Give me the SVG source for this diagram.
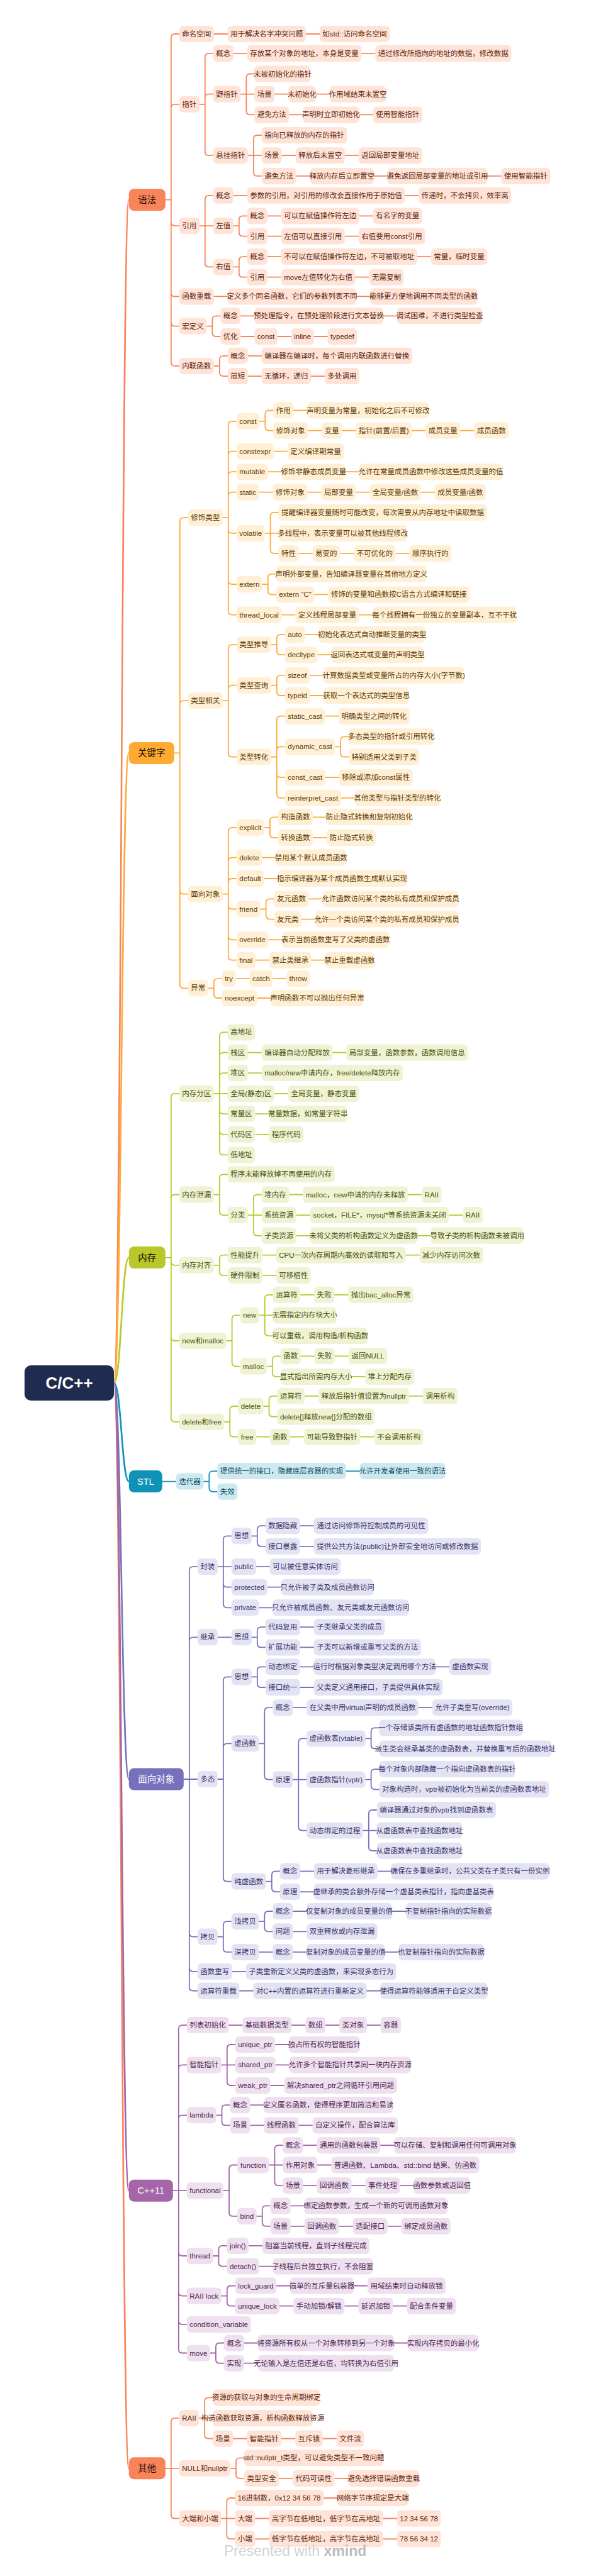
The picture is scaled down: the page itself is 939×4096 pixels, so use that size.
<svg xmlns="http://www.w3.org/2000/svg" width="939" height="4096" viewBox="0 0 939 4096">
<style>
text{font-family:"Liberation Sans","Noto Sans CJK SC",sans-serif;font-size:11.5px;text-anchor:middle}
svg svg{overflow:visible}
.c1 rect{fill:#FFE3D6}.c1 text{fill:#5B2711}
.c2 rect{fill:#FFEFD5}.c2 text{fill:#5B3B05}
.c3 rect{fill:#F0F3D3}.c3 text{fill:#4A5210}
.c4 rect{fill:#CDE8F1}.c4 text{fill:#0B4E62}
.c5 rect{fill:#E4E3F3}.c5 text{fill:#38356A}
.c6 rect{fill:#EEE0EF}.c6 text{fill:#4D2951}
.top text{font-size:14.5px}
.tw text{fill:#fff}.td text{fill:#1E0C02}
path{fill:none;stroke-width:1.8;stroke-linecap:round}
.l1{stroke:#F8855B}.l2{stroke:#FFAB38}.l3{stroke:#B9C92D}.l4{stroke:#1192B4}.l5{stroke:#7872BC}.l6{stroke:#A266A8}
.rl{stroke-width:2.6}
</style>
<rect width="939" height="4096" fill="#fff"/>
<g id="connectors">
<path class="l1 rl" d="M181 2199C193 2199 193 317.7 204.8 317.7M181 2199C193 2199 193 3924.8 204.8 3924.8"/>
<path class="l2 rl" d="M181 2199C193 2199 193 1197.4 204.8 1197.4"/>
<path class="l3 rl" d="M181 2199C193 2199 193 1999.6 204.8 1999.6"/>
<path class="l4 rl" d="M181 2199C193 2199 193 2355.6 204.8 2355.6"/>
<path class="l5 rl" d="M181 2199C193 2199 193 2829 204.8 2829"/>
<path class="l6 rl" d="M181 2199C193 2199 193 3483.2 204.8 3483.2"/>
<path class="l1" d="M262.8 317.7H271.8V60Q271.8 54 277.8 54H284.8M262.8 317.7H271.8V171.8Q271.8 165.8 277.8 165.8H284.8M262.8 317.7H271.8V353.1Q271.8 359.1 277.8 359.1H284.8M262.8 317.7H271.8V465.4Q271.8 471.4 277.8 471.4H284.8M262.8 317.7H271.8V512.6Q271.8 518.6 277.8 518.6H284.8M262.8 317.7H271.8V575.9Q271.8 581.9 277.8 581.9H284.8
M339.8 54H361.8M485.8 54H507.8
M316.8 165.8H325.8V90.9Q325.8 84.9 331.8 84.9H338.8M316.8 165.8H325.8V155.7Q325.8 149.7 331.8 149.7H338.8M316.8 165.8H325.8V241.2Q325.8 247.2 331.8 247.2H338.8
M370.8 84.9H392.8M574.3 84.9H596.3
M382.3 149.7H391.3V123.5Q391.3 117.5 397.3 117.5H404.3M382.3 149.7H404.3M382.3 149.7H391.3V176.4Q391.3 182.4 397.3 182.4H404.3
M436.3 149.7H458.3M501.8 149.7H523.8M459.3 182.4H481.3M570.8 182.4H592.8
M393.8 247.2H402.8V221Q402.8 215 408.8 215H415.8M393.8 247.2H415.8M393.8 247.2H402.8V273.9Q402.8 279.9 408.8 279.9H415.8
M447.8 247.2H469.8M547.8 247.2H569.8M470.8 279.9H492.8M593.8 279.9H615.8M774.3 279.9H796.3
M316.8 359.1H325.8V316.8Q325.8 310.8 331.8 310.8H338.8M316.8 359.1H338.8M316.8 359.1H325.8V418.4Q325.8 424.4 331.8 424.4H338.8
M370.8 310.8H392.8M643.3 310.8H665.3
M370.8 359.1H379.8V349.4Q379.8 343.4 385.8 343.4H392.8M370.8 359.1H379.8V369.6Q379.8 375.6 385.8 375.6H392.8
M424.8 343.4H446.8M570.8 343.4H592.8M424.8 375.6H446.8M547.8 375.6H569.8
M370.8 424.4H379.8V414.1Q379.8 408.1 385.8 408.1H392.8M370.8 424.4H379.8V434.7Q379.8 440.7 385.8 440.7H392.8
M424.8 408.1H446.8M662.8 408.1H684.8M424.8 440.7H446.8M564.4 440.7H586.4
M339.8 471.4H361.8M566.3 471.4H588.3
M328.3 518.6H337.3V508.3Q337.3 502.3 343.3 502.3H350.3M328.3 518.6H337.3V529Q337.3 535 343.3 535H350.3
M382.3 502.3H404.3M608.8 502.3H630.8M382.3 535H404.3M440.8 535H462.8M498.6 535H520.6
M339.8 581.9H348.8V571.8Q348.8 565.8 354.8 565.8H361.8M339.8 581.9H348.8V592.1Q348.8 598.1 354.8 598.1H361.8
M393.8 565.8H415.8M393.8 598.1H415.8M493.8 598.1H515.8"/>
<path class="l2" d="M276.8 1197.4H285.8V829.1Q285.8 823.1 291.8 823.1H298.8M276.8 1197.4H285.8V1120.1Q285.8 1114.1 291.8 1114.1H298.8M276.8 1197.4H285.8V1415.6Q285.8 1421.6 291.8 1421.6H298.8M276.8 1197.4H285.8V1565.3Q285.8 1571.3 291.8 1571.3H298.8
M353.8 823.1H362.8V675.8Q362.8 669.8 368.8 669.8H375.8M353.8 823.1H362.8V723.7Q362.8 717.7 368.8 717.7H375.8M353.8 823.1H362.8V756.2Q362.8 750.2 368.8 750.2H375.8M353.8 823.1H362.8V788.6Q362.8 782.6 368.8 782.6H375.8M353.8 823.1H362.8V841.9Q362.8 847.9 368.8 847.9H375.8M353.8 823.1H362.8V923Q362.8 929 368.8 929H375.8M353.8 823.1H362.8V971.6Q362.8 977.6 368.8 977.6H375.8
M412.3 669.8H421.3V658.5Q421.3 652.5 427.3 652.5H434.3M412.3 669.8H421.3V678.6Q421.3 684.6 427.3 684.6H434.3
M466.3 652.5H488.3M489.3 684.6H511.3M543.3 684.6H565.3M654.2 684.6H676.2M731.2 684.6H753.2
M434.7 717.7H456.7M425.7 750.2H447.7M548.7 750.2H570.7
M411.6 782.6H433.6M488.6 782.6H510.6M565.6 782.6H587.6M668.8 782.6H690.8
M420.6 847.9H429.6V820.8Q429.6 814.8 435.6 814.8H442.6M420.6 847.9H442.6M420.6 847.9H429.6V874.1Q429.6 880.1 435.6 880.1H442.6
M474.6 880.1H496.6M540.1 880.1H562.1M628.6 880.1H650.6
M416.8 929H425.8V918.7Q425.8 912.7 431.8 912.7H438.8M416.8 929H425.8V939.4Q425.8 945.4 431.8 945.4H438.8
M499.4 945.4H521.4M447.4 977.6H469.4M570.4 977.6H592.4
M353.8 1114.1H362.8V1031.1Q362.8 1025.1 368.8 1025.1H375.8M353.8 1114.1H362.8V1095.7Q362.8 1089.7 368.8 1089.7H375.8M353.8 1114.1H362.8V1197.5Q362.8 1203.5 368.8 1203.5H375.8
M430.8 1025.1H439.8V1014.9Q439.8 1008.9 445.8 1008.9H452.8M430.8 1025.1H439.8V1035.2Q439.8 1041.2 445.8 1041.2H452.8
M484.2 1008.9H506.2M504.6 1041.2H526.6
M430.8 1089.7H439.8V1079.8Q439.8 1073.8 445.8 1073.8H452.8M430.8 1089.7H439.8V1100Q439.8 1106 445.8 1106H452.8
M491.8 1073.8H513.8M492.5 1106H514.5
M430.8 1203.5H439.8V1144.7Q439.8 1138.7 445.8 1138.7H452.8M430.8 1203.5H439.8V1193.4Q439.8 1187.4 445.8 1187.4H452.8M430.8 1203.5H439.8V1230.2Q439.8 1236.2 445.8 1236.2H452.8M430.8 1203.5H439.8V1262.8Q439.8 1268.8 445.8 1268.8H452.8
M516.1 1138.7H538.1
M532.1 1187.4H541.1V1177.3Q541.1 1171.3 547.1 1171.3H554.1M532.1 1187.4H541.1V1197.5Q541.1 1203.5 547.1 1203.5H554.1
M516.8 1236.2H538.8M541.7 1268.8H563.7
M353.8 1421.6H362.8V1321.8Q362.8 1315.8 368.8 1315.8H375.8M353.8 1421.6H362.8V1369.7Q362.8 1363.7 368.8 1363.7H375.8M353.8 1421.6H362.8V1403Q362.8 1397 368.8 1397H375.8M353.8 1421.6H362.8V1439.5Q362.8 1445.5 368.8 1445.5H375.8M353.8 1421.6H362.8V1488.3Q362.8 1494.3 368.8 1494.3H375.8M353.8 1421.6H362.8V1520.7Q362.8 1526.7 368.8 1526.7H375.8
M419.9 1315.8H428.9V1305.3Q428.9 1299.3 434.9 1299.3H441.9M419.9 1315.8H428.9V1325.9Q428.9 1331.9 434.9 1331.9H441.9
M496.9 1299.3H518.9M496.9 1331.9H518.9M416 1363.7H438M419.3 1397H441.3
M413.6 1445.5H422.6V1435.4Q422.6 1429.4 428.6 1429.4H435.6M413.6 1445.5H422.6V1455.6Q422.6 1461.6 428.6 1461.6H435.6
M490.6 1429.4H512.6M479.1 1461.6H501.1M426.3 1494.3H448.3M405.9 1526.7H427.9M494.4 1526.7H516.4
M330.8 1571.3H339.8V1562.1Q339.8 1556.1 345.8 1556.1H352.8M330.8 1571.3H339.8V1581Q339.8 1587 345.8 1587H352.8
M374.6 1556.1H396.6M433.1 1556.1H455.1M408.5 1587H430.5"/>
<path class="l3" d="M262.8 1999.6H271.8V1744.9Q271.8 1738.9 277.8 1738.9H284.8M262.8 1999.6H271.8V1905.5Q271.8 1899.5 277.8 1899.5H284.8M262.8 1999.6H271.8V2005.8Q271.8 2011.8 277.8 2011.8H284.8M262.8 1999.6H271.8V2125.9Q271.8 2131.9 277.8 2131.9H284.8M262.8 1999.6H271.8V2254.8Q271.8 2260.8 277.8 2260.8H284.8
M339.8 1738.9H348.8V1647.4Q348.8 1641.4 354.8 1641.4H361.8M339.8 1738.9H348.8V1679.6Q348.8 1673.6 354.8 1673.6H361.8M339.8 1738.9H348.8V1712.1Q348.8 1706.1 354.8 1706.1H361.8M339.8 1738.9H361.8M339.8 1738.9H348.8V1765.1Q348.8 1771.1 354.8 1771.1H361.8M339.8 1738.9H348.8V1797.8Q348.8 1803.8 354.8 1803.8H361.8M339.8 1738.9H348.8V1830.4Q348.8 1836.4 354.8 1836.4H361.8
M393.8 1673.6H415.8M528.3 1673.6H550.3M393.8 1706.1H415.8M436 1738.9H458M405.3 1771.1H427.3M405.3 1803.8H427.3
M339.8 1899.5H348.8V1873.3Q348.8 1867.3 354.8 1867.3H361.8M339.8 1899.5H348.8V1926.1Q348.8 1932.1 354.8 1932.1H361.8
M393.8 1932.1H402.8V1905.5Q402.8 1899.5 408.8 1899.5H415.8M393.8 1932.1H415.8M393.8 1932.1H402.8V1958.8Q402.8 1964.8 408.8 1964.8H415.8
M459.3 1899.5H481.3M648.1 1899.5H670.1M470.8 1932.1H492.8M713.3 1932.1H735.3M470.8 1964.8H492.8M662.8 1964.8H684.8
M339.8 2011.8H348.8V2001.7Q348.8 1995.7 354.8 1995.7H361.8M339.8 2011.8H348.8V2021.9Q348.8 2027.9 354.8 2027.9H361.8
M416.8 1995.7H438.8M644.6 1995.7H666.6M416.8 2027.9H438.8
M359.6 2131.9H368.6V2097.4Q368.6 2091.4 374.6 2091.4H381.6M359.6 2131.9H368.6V2166.6Q368.6 2172.6 374.6 2172.6H381.6
M411.7 2091.4H420.7V2064.8Q420.7 2058.8 426.7 2058.8H433.7M411.7 2091.4H433.7M411.7 2091.4H420.7V2118.1Q420.7 2124.1 426.7 2124.1H433.7
M477.2 2058.8H499.2M531.2 2058.8H553.2
M423.8 2172.6H432.8V2162.3Q432.8 2156.3 438.8 2156.3H445.8M423.8 2172.6H432.8V2182.9Q432.8 2188.9 438.8 2188.9H445.8
M477.8 2156.3H499.8M531.8 2156.3H553.8M558.3 2188.9H580.3
M356.3 2260.8H365.3V2242Q365.3 2236 371.3 2236H378.3M356.3 2260.8H365.3V2278.7Q365.3 2284.7 371.3 2284.7H378.3
M418.5 2236H427.5V2225.9Q427.5 2219.9 433.5 2219.9H440.5M418.5 2236H427.5V2246.5Q427.5 2252.5 433.5 2252.5H440.5
M484 2219.9H506M649.8 2219.9H671.8M407.1 2284.7H429.1M461.1 2284.7H483.1M572.6 2284.7H594.6"/>
<path class="l4" d="M257.8 2355.6H279.8M323.3 2355.6H332.3V2345.1Q332.3 2339.1 338.3 2339.1H345.3M323.3 2355.6H332.3V2365.8Q332.3 2371.8 338.3 2371.8H345.3M549.8 2339.1H571.8"/>
<path class="l5" d="M291.8 2829H300.8V2497.1Q300.8 2491.1 306.8 2491.1H313.8M291.8 2829H300.8V2609.3Q300.8 2603.3 306.8 2603.3H313.8M291.8 2829H313.8M291.8 2829H300.8V3073.5Q300.8 3079.5 306.8 3079.5H313.8M291.8 2829H300.8V3128.8Q300.8 3134.8 306.8 3134.8H313.8M291.8 2829H300.8V3159.5Q300.8 3165.5 306.8 3165.5H313.8
M345.8 2491.1H354.8V2448.3Q354.8 2442.3 360.8 2442.3H367.8M345.8 2491.1H367.8M345.8 2491.1H354.8V2517.7Q354.8 2523.7 360.8 2523.7H367.8M345.8 2491.1H354.8V2550.3Q354.8 2556.3 360.8 2556.3H367.8
M399.8 2442.3H408.8V2432.2Q408.8 2426.2 414.8 2426.2H421.8M399.8 2442.3H408.8V2452.8Q408.8 2458.8 414.8 2458.8H421.8
M476.8 2426.2H498.8M476.8 2458.8H498.8M406.8 2491.1H428.8M424.7 2523.7H446.7M411.3 2556.3H433.3
M345.8 2603.3H367.8M399.8 2603.3H408.8V2593.2Q408.8 2587.2 414.8 2587.2H421.8M399.8 2603.3H408.8V2613.4Q408.8 2619.4 414.8 2619.4H421.8
M476.8 2587.2H498.8M476.8 2619.4H498.8
M345.8 2829H354.8V2672.4Q354.8 2666.4 360.8 2666.4H367.8M345.8 2829H354.8V2778.3Q354.8 2772.3 360.8 2772.3H367.8M345.8 2829H354.8V2985.6Q354.8 2991.6 360.8 2991.6H367.8
M399.8 2666.4H408.8V2656.3Q408.8 2650.3 414.8 2650.3H421.8M399.8 2666.4H408.8V2677Q408.8 2683 414.8 2683H421.8
M476.8 2650.3H498.8M691.8 2650.3H713.8M476.8 2683H498.8
M411.3 2772.3H420.3V2721.2Q420.3 2715.2 426.3 2715.2H433.3M411.3 2772.3H420.3V2823.6Q420.3 2829.6 426.3 2829.6H433.3
M465.3 2715.2H487.3M665 2715.2H687
M465.3 2829.6H474.3V2770.4Q474.3 2764.4 480.3 2764.4H487.3M465.3 2829.6H487.3M465.3 2829.6H474.3V2904.6Q474.3 2910.6 480.3 2910.6H487.3
M580.6 2764.4H589.6V2753.4Q589.6 2747.4 595.6 2747.4H602.6M580.6 2764.4H589.6V2774.5Q589.6 2780.5 595.6 2780.5H602.6
M580.6 2829.6H589.6V2819.1Q589.6 2813.1 595.6 2813.1H602.6M580.6 2829.6H589.6V2839.3Q589.6 2845.3 595.6 2845.3H602.6
M576.8 2910.6H585.8V2884Q585.8 2878 591.8 2878H598.8M576.8 2910.6H598.8M576.8 2910.6H585.8V2936.8Q585.8 2942.8 591.8 2942.8H598.8
M422.8 2991.6H431.8V2981.4Q431.8 2975.4 437.8 2975.4H444.8M422.8 2991.6H431.8V3002.1Q431.8 3008.1 437.8 3008.1H444.8
M476.8 2975.4H498.8M599.8 2975.4H621.8M476.8 3008.1H498.8
M345.8 3079.5H354.8V3061.1Q354.8 3055.1 360.8 3055.1H367.8M345.8 3079.5H354.8V3097.9Q354.8 3103.9 360.8 3103.9H367.8
M411.3 3055.1H420.3V3045Q420.3 3039 426.3 3039H433.3M411.3 3055.1H420.3V3065.3Q420.3 3071.3 426.3 3071.3H433.3
M465.3 3039H487.3M622.8 3039H644.8M465.3 3071.3H487.3
M411.3 3103.9H433.3M465.3 3103.9H487.3M611.3 3103.9H633.3
M368.8 3134.8H390.8M380.3 3165.5H402.3M582.5 3165.5H604.5"/>
<path class="l6" d="M274.8 3483.2H283.8V3226.1Q283.8 3220.1 289.8 3220.1H296.8M274.8 3483.2H283.8V3289.4Q283.8 3283.4 289.8 3283.4H296.8M274.8 3483.2H283.8V3369.3Q283.8 3363.3 289.8 3363.3H296.8M274.8 3483.2H296.8M274.8 3483.2H283.8V3581Q283.8 3587 289.8 3587H296.8M274.8 3483.2H283.8V3644.6Q283.8 3650.6 289.8 3650.6H296.8M274.8 3483.2H283.8V3689.9Q283.8 3695.9 289.8 3695.9H296.8M274.8 3483.2H283.8V3735.5Q283.8 3741.5 289.8 3741.5H296.8
M363.3 3220.1H385.3M463.3 3220.1H485.3M517.3 3220.1H539.3M582.8 3220.1H604.8
M351.8 3283.4H360.8V3257Q360.8 3251 366.8 3251H373.8M351.8 3283.4H373.8M351.8 3283.4H360.8V3310Q360.8 3316 366.8 3316H373.8
M437.1 3251H459.1M437.8 3283.4H459.8M429.5 3316H451.5
M343.5 3363.3H352.5V3353.2Q352.5 3347.2 358.5 3347.2H365.5M343.5 3363.3H352.5V3373.4Q352.5 3379.4 358.5 3379.4H365.5
M397.5 3347.2H419.5M397.5 3379.4H419.5M474.5 3379.4H496.5
M355 3483.2H364V3448.5Q364 3442.5 370 3442.5H377M355 3483.2H364V3517.9Q364 3523.9 370 3523.9H377
M427.4 3442.5H436.4V3417.2Q436.4 3411.2 442.4 3411.2H449.4M427.4 3442.5H449.4M427.4 3442.5H436.4V3469.2Q436.4 3475.2 442.4 3475.2H449.4
M481.4 3411.2H503.4M604.4 3411.2H626.4M504.4 3442.5H526.4M481.4 3475.2H503.4M558.4 3475.2H580.4M635.4 3475.2H657.4
M407.7 3523.9H416.7V3513.4Q416.7 3507.4 422.7 3507.4H429.7M407.7 3523.9H416.7V3533.8Q416.7 3539.8 422.7 3539.8H429.7
M461.7 3507.4H483.7M461.7 3539.8H483.7M538.7 3539.8H560.7M615.7 3539.8H637.7
M338.4 3587H347.4V3576.9Q347.4 3570.9 353.4 3570.9H360.4M338.4 3587H347.4V3597.6Q347.4 3603.6 353.4 3603.6H360.4
M395 3570.9H417M411.6 3603.6H433.6
M351.8 3650.6H360.8V3640.5Q360.8 3634.5 366.8 3634.5H373.8M351.8 3650.6H360.8V3660.7Q360.8 3666.7 366.8 3666.7H373.8
M439 3634.5H461M562 3634.5H584M444.2 3666.7H466.2M547.4 3666.7H569.4M624.4 3666.7H646.4
M333.9 3741.5H342.9V3731.5Q342.9 3725.5 348.9 3725.5H355.9M333.9 3741.5H342.9V3751.7Q342.9 3757.7 348.9 3757.7H355.9
M387.9 3725.5H409.9M625.9 3725.5H647.9M387.9 3757.7H409.9"/>
<path class="l1" d="M262.8 3924.8H271.8V3850.9Q271.8 3844.9 277.8 3844.9H284.8M262.8 3924.8H284.8M262.8 3924.8H271.8V3998.5Q271.8 4004.5 277.8 4004.5H284.8
M316.2 3844.9H325.2V3818.4Q325.2 3812.4 331.2 3812.4H338.2M316.2 3844.9H338.2M316.2 3844.9H325.2V3871.5Q325.2 3877.5 331.2 3877.5H338.2
M370.2 3877.5H392.2M447.2 3877.5H469.2M512.7 3877.5H534.7
M366 3924.8H375V3914.3Q375 3908.3 381 3908.3H388M366 3924.8H375V3934.9Q375 3940.9 381 3940.9H388
M443 3940.9H465M531.5 3940.9H553.5
M351.3 4004.5H360.3V3978Q360.3 3972 366.3 3972H373.3M351.3 4004.5H373.3M351.3 4004.5H360.3V4031.1Q360.3 4037.1 366.3 4037.1H373.3
M514 3972H536M405.3 4004.5H427.3M608.8 4004.5H630.8M405.3 4037.1H427.3M608.8 4037.1H630.8"/>
</g>
<g id="n-root"><rect x="39" y="2171" width="142" height="56" rx="10" fill="#202C4F"/><text x="110" y="2208" style="font-size:26px;font-weight:bold;fill:#fff">C/C++</text></g>
<g id="n-T1" class="top td"><svg x="204.8" y="300.2" width="58" height="35"><rect width="100%" height="100%" rx="8" fill="#F9845A"/><text x="50%" y="22.5">语法</text></svg></g>
<g id="n-T2" class="top td"><svg x="204.8" y="1179.9" width="72" height="35"><rect width="100%" height="100%" rx="8" fill="#FFAA33"/><text x="50%" y="22.5">关键字</text></svg></g>
<g id="n-T3" class="top td"><svg x="204.8" y="1982.1" width="58" height="35"><rect width="100%" height="100%" rx="8" fill="#B8C82B"/><text x="50%" y="22.5">内存</text></svg></g>
<g id="n-T4" class="top tw"><svg x="204.8" y="2338.1" width="53" height="35"><rect width="100%" height="100%" rx="8" fill="#0F92B5"/><text x="50%" y="22.5">STL</text></svg></g>
<g id="n-T5" class="top tw"><svg x="204.8" y="2811.5" width="87" height="35"><rect width="100%" height="100%" rx="8" fill="#7771BD"/><text x="50%" y="22.5">面向对象</text></svg></g>
<g id="n-T6" class="top tw"><svg x="204.8" y="3465.7" width="70" height="35"><rect width="100%" height="100%" rx="8" fill="#A466A8"/><text x="50%" y="22.5">C++11</text></svg></g>
<g id="n-T7" class="top td"><svg x="204.8" y="3907.3" width="58" height="35"><rect width="100%" height="100%" rx="8" fill="#F9845A"/><text x="50%" y="22.5">其他</text></svg></g>

<g id="n-A" class="c1"><svg x="284.8" y="41" width="55" height="26"><rect width="100%" height="100%" rx="6"/><text x="50%" y="17">命名空间</text></svg></g>
<g id="n-A1" class="c1"><svg x="361.8" y="41" width="124" height="26"><rect width="100%" height="100%" rx="6"/><text x="50%" y="17">用于解决名字冲突问题</text></svg></g>
<g id="n-A11" class="c1"><svg x="507.8" y="41" width="111.2" height="26"><rect width="100%" height="100%" rx="6"/><text x="50%" y="17">如std::访问命名空间</text></svg></g>
<g id="n-B" class="c1"><svg x="284.8" y="152.8" width="32" height="26"><rect width="100%" height="100%" rx="6"/><text x="50%" y="17">指针</text></svg></g>
<g id="n-B1" class="c1"><svg x="338.8" y="71.9" width="32" height="26"><rect width="100%" height="100%" rx="6"/><text x="50%" y="17">概念</text></svg></g>
<g id="n-B11" class="c1"><svg x="392.8" y="71.9" width="181.5" height="26"><rect width="100%" height="100%" rx="6"/><text x="50%" y="17">存放某个对象的地址，本身是变量</text></svg></g>
<g id="n-B111" class="c1"><svg x="596.3" y="71.9" width="216" height="26"><rect width="100%" height="100%" rx="6"/><text x="50%" y="17">通过修改所指向的地址的数据，修改数据</text></svg></g>
<g id="n-B2" class="c1"><svg x="338.8" y="136.7" width="43.5" height="26"><rect width="100%" height="100%" rx="6"/><text x="50%" y="17">野指针</text></svg></g>
<g id="n-B21" class="c1"><svg x="404.3" y="104.5" width="89.5" height="26"><rect width="100%" height="100%" rx="6"/><text x="50%" y="17">未被初始化的指针</text></svg></g>
<g id="n-B22" class="c1"><svg x="404.3" y="136.7" width="32" height="26"><rect width="100%" height="100%" rx="6"/><text x="50%" y="17">场景</text></svg></g>
<g id="n-B221" class="c1"><svg x="458.3" y="136.7" width="43.5" height="26"><rect width="100%" height="100%" rx="6"/><text x="50%" y="17">未初始化</text></svg></g>
<g id="n-B2211" class="c1"><svg x="523.8" y="136.7" width="89.5" height="26"><rect width="100%" height="100%" rx="6"/><text x="50%" y="17">作用域结束未置空</text></svg></g>
<g id="n-B23" class="c1"><svg x="404.3" y="169.4" width="55" height="26"><rect width="100%" height="100%" rx="6"/><text x="50%" y="17">避免方法</text></svg></g>
<g id="n-B231" class="c1"><svg x="481.3" y="169.4" width="89.5" height="26"><rect width="100%" height="100%" rx="6"/><text x="50%" y="17">声明时立即初始化</text></svg></g>
<g id="n-B2311" class="c1"><svg x="592.8" y="169.4" width="78" height="26"><rect width="100%" height="100%" rx="6"/><text x="50%" y="17">使用智能指针</text></svg></g>
<g id="n-B3" class="c1"><svg x="338.8" y="234.2" width="55" height="26"><rect width="100%" height="100%" rx="6"/><text x="50%" y="17">悬挂指针</text></svg></g>
<g id="n-B31" class="c1"><svg x="415.8" y="202" width="135.5" height="26"><rect width="100%" height="100%" rx="6"/><text x="50%" y="17">指向已释放的内存的指针</text></svg></g>
<g id="n-B32" class="c1"><svg x="415.8" y="234.2" width="32" height="26"><rect width="100%" height="100%" rx="6"/><text x="50%" y="17">场景</text></svg></g>
<g id="n-B321" class="c1"><svg x="469.8" y="234.2" width="78" height="26"><rect width="100%" height="100%" rx="6"/><text x="50%" y="17">释放后未置空</text></svg></g>
<g id="n-B3211" class="c1"><svg x="569.8" y="234.2" width="101" height="26"><rect width="100%" height="100%" rx="6"/><text x="50%" y="17">返回局部变量地址</text></svg></g>
<g id="n-B33" class="c1"><svg x="415.8" y="266.9" width="55" height="26"><rect width="100%" height="100%" rx="6"/><text x="50%" y="17">避免方法</text></svg></g>
<g id="n-B331" class="c1"><svg x="492.8" y="266.9" width="101" height="26"><rect width="100%" height="100%" rx="6"/><text x="50%" y="17">释放内存后立即置空</text></svg></g>
<g id="n-B3311" class="c1"><svg x="615.8" y="266.9" width="158.5" height="26"><rect width="100%" height="100%" rx="6"/><text x="50%" y="17">避免返回局部变量的地址或引用</text></svg></g>
<g id="n-B33111" class="c1"><svg x="796.3" y="266.9" width="78" height="26"><rect width="100%" height="100%" rx="6"/><text x="50%" y="17">使用智能指针</text></svg></g>
<g id="n-C" class="c1"><svg x="284.8" y="346.1" width="32" height="26"><rect width="100%" height="100%" rx="6"/><text x="50%" y="17">引用</text></svg></g>
<g id="n-C1" class="c1"><svg x="338.8" y="297.8" width="32" height="26"><rect width="100%" height="100%" rx="6"/><text x="50%" y="17">概念</text></svg></g>
<g id="n-C11" class="c1"><svg x="392.8" y="297.8" width="250.5" height="26"><rect width="100%" height="100%" rx="6"/><text x="50%" y="17">参数的引用，对引用的修改会直接作用于原始值</text></svg></g>
<g id="n-C111" class="c1"><svg x="665.3" y="297.8" width="147" height="26"><rect width="100%" height="100%" rx="6"/><text x="50%" y="17">传递时，不会拷贝，效率高</text></svg></g>
<g id="n-C2" class="c1"><svg x="338.8" y="346.1" width="32" height="26"><rect width="100%" height="100%" rx="6"/><text x="50%" y="17">左值</text></svg></g>
<g id="n-C21" class="c1"><svg x="392.8" y="330.4" width="32" height="26"><rect width="100%" height="100%" rx="6"/><text x="50%" y="17">概念</text></svg></g>
<g id="n-C211" class="c1"><svg x="446.8" y="330.4" width="124" height="26"><rect width="100%" height="100%" rx="6"/><text x="50%" y="17">可以在赋值操作符左边</text></svg></g>
<g id="n-C2111" class="c1"><svg x="592.8" y="330.4" width="78" height="26"><rect width="100%" height="100%" rx="6"/><text x="50%" y="17">有名字的变量</text></svg></g>
<g id="n-C22" class="c1"><svg x="392.8" y="362.6" width="32" height="26"><rect width="100%" height="100%" rx="6"/><text x="50%" y="17">引用</text></svg></g>
<g id="n-C221" class="c1"><svg x="446.8" y="362.6" width="101" height="26"><rect width="100%" height="100%" rx="6"/><text x="50%" y="17">左值可以直接引用</text></svg></g>
<g id="n-C2211" class="c1"><svg x="569.8" y="362.6" width="105.5" height="26"><rect width="100%" height="100%" rx="6"/><text x="50%" y="17">右值要用const引用</text></svg></g>
<g id="n-C3" class="c1"><svg x="338.8" y="411.4" width="32" height="26"><rect width="100%" height="100%" rx="6"/><text x="50%" y="17">右值</text></svg></g>
<g id="n-C31" class="c1"><svg x="392.8" y="395.1" width="32" height="26"><rect width="100%" height="100%" rx="6"/><text x="50%" y="17">概念</text></svg></g>
<g id="n-C311" class="c1"><svg x="446.8" y="395.1" width="216" height="26"><rect width="100%" height="100%" rx="6"/><text x="50%" y="17">不可以在赋值操作符左边，不可被取地址</text></svg></g>
<g id="n-C3111" class="c1"><svg x="684.8" y="395.1" width="89.5" height="26"><rect width="100%" height="100%" rx="6"/><text x="50%" y="17">常量，临时变量</text></svg></g>
<g id="n-C32" class="c1"><svg x="392.8" y="427.7" width="32" height="26"><rect width="100%" height="100%" rx="6"/><text x="50%" y="17">引用</text></svg></g>
<g id="n-C321" class="c1"><svg x="446.8" y="427.7" width="117.6" height="26"><rect width="100%" height="100%" rx="6"/><text x="50%" y="17">move左值转化为右值</text></svg></g>
<g id="n-C3211" class="c1"><svg x="586.4" y="427.7" width="55" height="26"><rect width="100%" height="100%" rx="6"/><text x="50%" y="17">无需复制</text></svg></g>
<g id="n-D" class="c1"><svg x="284.8" y="458.4" width="55" height="26"><rect width="100%" height="100%" rx="6"/><text x="50%" y="17">函数重载</text></svg></g>
<g id="n-D1" class="c1"><svg x="361.8" y="458.4" width="204.5" height="26"><rect width="100%" height="100%" rx="6"/><text x="50%" y="17">定义多个同名函数，它们的参数列表不同</text></svg></g>
<g id="n-D11" class="c1"><svg x="588.3" y="458.4" width="170" height="26"><rect width="100%" height="100%" rx="6"/><text x="50%" y="17">能够更方便地调用不同类型的函数</text></svg></g>
<g id="n-E" class="c1"><svg x="284.8" y="505.6" width="43.5" height="26"><rect width="100%" height="100%" rx="6"/><text x="50%" y="17">宏定义</text></svg></g>
<g id="n-E1" class="c1"><svg x="350.3" y="489.3" width="32" height="26"><rect width="100%" height="100%" rx="6"/><text x="50%" y="17">概念</text></svg></g>
<g id="n-E11" class="c1"><svg x="404.3" y="489.3" width="204.5" height="26"><rect width="100%" height="100%" rx="6"/><text x="50%" y="17">预处理指令，在预处理阶段进行文本替换</text></svg></g>
<g id="n-E111" class="c1"><svg x="630.8" y="489.3" width="135.5" height="26"><rect width="100%" height="100%" rx="6"/><text x="50%" y="17">调试困难，不进行类型检查</text></svg></g>
<g id="n-E2" class="c1"><svg x="350.3" y="522" width="32" height="26"><rect width="100%" height="100%" rx="6"/><text x="50%" y="17">优化</text></svg></g>
<g id="n-E21" class="c1"><svg x="404.3" y="522" width="36.5" height="26"><rect width="100%" height="100%" rx="6"/><text x="50%" y="17">const</text></svg></g>
<g id="n-E211" class="c1"><svg x="462.8" y="522" width="35.8" height="26"><rect width="100%" height="100%" rx="6"/><text x="50%" y="17">inline</text></svg></g>
<g id="n-E2111" class="c1"><svg x="520.6" y="522" width="46.7" height="26"><rect width="100%" height="100%" rx="6"/><text x="50%" y="17">typedef</text></svg></g>
<g id="n-F" class="c1"><svg x="284.8" y="568.9" width="55" height="26"><rect width="100%" height="100%" rx="6"/><text x="50%" y="17">内联函数</text></svg></g>
<g id="n-F1" class="c1"><svg x="361.8" y="552.8" width="32" height="26"><rect width="100%" height="100%" rx="6"/><text x="50%" y="17">概念</text></svg></g>
<g id="n-F11" class="c1"><svg x="415.8" y="552.8" width="239" height="26"><rect width="100%" height="100%" rx="6"/><text x="50%" y="17">编译器在编译时，每个调用内联函数进行替换</text></svg></g>
<g id="n-F2" class="c1"><svg x="361.8" y="585.1" width="32" height="26"><rect width="100%" height="100%" rx="6"/><text x="50%" y="17">简短</text></svg></g>
<g id="n-F21" class="c1"><svg x="415.8" y="585.1" width="78" height="26"><rect width="100%" height="100%" rx="6"/><text x="50%" y="17">无循环，递归</text></svg></g>
<g id="n-F211" class="c1"><svg x="515.8" y="585.1" width="55" height="26"><rect width="100%" height="100%" rx="6"/><text x="50%" y="17">多处调用</text></svg></g>

<g id="n-G" class="c2"><svg x="298.8" y="810.1" width="55" height="26"><rect width="100%" height="100%" rx="6"/><text x="50%" y="17">修饰类型</text></svg></g>
<g id="n-G1" class="c2"><svg x="375.8" y="656.8" width="36.5" height="26"><rect width="100%" height="100%" rx="6"/><text x="50%" y="17">const</text></svg></g>
<g id="n-G11" class="c2"><svg x="434.3" y="639.5" width="32" height="26"><rect width="100%" height="100%" rx="6"/><text x="50%" y="17">作用</text></svg></g>
<g id="n-G111" class="c2"><svg x="488.3" y="639.5" width="193" height="26"><rect width="100%" height="100%" rx="6"/><text x="50%" y="17">声明变量为常量，初始化之后不可修改</text></svg></g>
<g id="n-G12" class="c2"><svg x="434.3" y="671.6" width="55" height="26"><rect width="100%" height="100%" rx="6"/><text x="50%" y="17">修饰对象</text></svg></g>
<g id="n-G121" class="c2"><svg x="511.3" y="671.6" width="32" height="26"><rect width="100%" height="100%" rx="6"/><text x="50%" y="17">变量</text></svg></g>
<g id="n-G1211" class="c2"><svg x="565.3" y="671.6" width="88.9" height="26"><rect width="100%" height="100%" rx="6"/><text x="50%" y="17">指针(前置/后置)</text></svg></g>
<g id="n-G12111" class="c2"><svg x="676.2" y="671.6" width="55" height="26"><rect width="100%" height="100%" rx="6"/><text x="50%" y="17">成员变量</text></svg></g>
<g id="n-G121111" class="c2"><svg x="753.2" y="671.6" width="55" height="26"><rect width="100%" height="100%" rx="6"/><text x="50%" y="17">成员函数</text></svg></g>
<g id="n-G2" class="c2"><svg x="375.8" y="704.7" width="58.9" height="26"><rect width="100%" height="100%" rx="6"/><text x="50%" y="17">constexpr</text></svg></g>
<g id="n-G21" class="c2"><svg x="456.7" y="704.7" width="89.5" height="26"><rect width="100%" height="100%" rx="6"/><text x="50%" y="17">定义编译期常量</text></svg></g>
<g id="n-G3" class="c2"><svg x="375.8" y="737.2" width="49.9" height="26"><rect width="100%" height="100%" rx="6"/><text x="50%" y="17">mutable</text></svg></g>
<g id="n-G31" class="c2"><svg x="447.7" y="737.2" width="101" height="26"><rect width="100%" height="100%" rx="6"/><text x="50%" y="17">修饰非静态成员变量</text></svg></g>
<g id="n-G311" class="c2"><svg x="570.7" y="737.2" width="227.5" height="26"><rect width="100%" height="100%" rx="6"/><text x="50%" y="17">允许在常量成员函数中修改这些成员变量的值</text></svg></g>
<g id="n-G4" class="c2"><svg x="375.8" y="769.6" width="35.8" height="26"><rect width="100%" height="100%" rx="6"/><text x="50%" y="17">static</text></svg></g>
<g id="n-G41" class="c2"><svg x="433.6" y="769.6" width="55" height="26"><rect width="100%" height="100%" rx="6"/><text x="50%" y="17">修饰对象</text></svg></g>
<g id="n-G411" class="c2"><svg x="510.6" y="769.6" width="55" height="26"><rect width="100%" height="100%" rx="6"/><text x="50%" y="17">局部变量</text></svg></g>
<g id="n-G4111" class="c2"><svg x="587.6" y="769.6" width="81.2" height="26"><rect width="100%" height="100%" rx="6"/><text x="50%" y="17">全局变量/函数</text></svg></g>
<g id="n-G41111" class="c2"><svg x="690.8" y="769.6" width="81.2" height="26"><rect width="100%" height="100%" rx="6"/><text x="50%" y="17">成员变量/函数</text></svg></g>
<g id="n-G5" class="c2"><svg x="375.8" y="834.9" width="44.8" height="26"><rect width="100%" height="100%" rx="6"/><text x="50%" y="17">volatile</text></svg></g>
<g id="n-G51" class="c2"><svg x="442.6" y="801.8" width="331" height="26"><rect width="100%" height="100%" rx="6"/><text x="50%" y="17">提醒编译器变量随时可能改变，每次需要从内存地址中读取数据</text></svg></g>
<g id="n-G52" class="c2"><svg x="442.6" y="834.9" width="204.5" height="26"><rect width="100%" height="100%" rx="6"/><text x="50%" y="17">多线程中，表示变量可以被其他线程修改</text></svg></g>
<g id="n-G53" class="c2"><svg x="442.6" y="867.1" width="32" height="26"><rect width="100%" height="100%" rx="6"/><text x="50%" y="17">特性</text></svg></g>
<g id="n-G531" class="c2"><svg x="496.6" y="867.1" width="43.5" height="26"><rect width="100%" height="100%" rx="6"/><text x="50%" y="17">易变的</text></svg></g>
<g id="n-G5311" class="c2"><svg x="562.1" y="867.1" width="66.5" height="26"><rect width="100%" height="100%" rx="6"/><text x="50%" y="17">不可优化的</text></svg></g>
<g id="n-G53111" class="c2"><svg x="650.6" y="867.1" width="66.5" height="26"><rect width="100%" height="100%" rx="6"/><text x="50%" y="17">顺序执行的</text></svg></g>
<g id="n-G6" class="c2"><svg x="375.8" y="916" width="41" height="26"><rect width="100%" height="100%" rx="6"/><text x="50%" y="17">extern</text></svg></g>
<g id="n-G61" class="c2"><svg x="438.8" y="899.7" width="239" height="26"><rect width="100%" height="100%" rx="6"/><text x="50%" y="17">声明外部变量，告知编译器变量在其他地方定义</text></svg></g>
<g id="n-G62" class="c2"><svg x="438.8" y="932.4" width="60.6" height="26"><rect width="100%" height="100%" rx="6"/><text x="50%" y="17">extern "C"</text></svg></g>
<g id="n-G621" class="c2"><svg x="521.4" y="932.4" width="224.3" height="26"><rect width="100%" height="100%" rx="6"/><text x="50%" y="17">修饰的变量和函数按C语言方式编译和链接</text></svg></g>
<g id="n-G7" class="c2"><svg x="375.8" y="964.6" width="71.6" height="26"><rect width="100%" height="100%" rx="6"/><text x="50%" y="17">thread_local</text></svg></g>
<g id="n-G71" class="c2"><svg x="469.4" y="964.6" width="101" height="26"><rect width="100%" height="100%" rx="6"/><text x="50%" y="17">定义线程局部变量</text></svg></g>
<g id="n-G711" class="c2"><svg x="592.4" y="964.6" width="227.5" height="26"><rect width="100%" height="100%" rx="6"/><text x="50%" y="17">每个线程拥有一份独立的变量副本，互不干扰</text></svg></g>
<g id="n-H" class="c2"><svg x="298.8" y="1101.1" width="55" height="26"><rect width="100%" height="100%" rx="6"/><text x="50%" y="17">类型相关</text></svg></g>
<g id="n-H1" class="c2"><svg x="375.8" y="1012.1" width="55" height="26"><rect width="100%" height="100%" rx="6"/><text x="50%" y="17">类型推导</text></svg></g>
<g id="n-H11" class="c2"><svg x="452.8" y="995.9" width="31.4" height="26"><rect width="100%" height="100%" rx="6"/><text x="50%" y="17">auto</text></svg></g>
<g id="n-H111" class="c2"><svg x="506.2" y="995.9" width="170" height="26"><rect width="100%" height="100%" rx="6"/><text x="50%" y="17">初始化表达式自动推断变量的类型</text></svg></g>
<g id="n-H12" class="c2"><svg x="452.8" y="1028.2" width="51.8" height="26"><rect width="100%" height="100%" rx="6"/><text x="50%" y="17">decltype</text></svg></g>
<g id="n-H121" class="c2"><svg x="526.6" y="1028.2" width="147" height="26"><rect width="100%" height="100%" rx="6"/><text x="50%" y="17">返回表达式或变量的声明类型</text></svg></g>
<g id="n-H2" class="c2"><svg x="375.8" y="1076.7" width="55" height="26"><rect width="100%" height="100%" rx="6"/><text x="50%" y="17">类型查询</text></svg></g>
<g id="n-H21" class="c2"><svg x="452.8" y="1060.8" width="39" height="26"><rect width="100%" height="100%" rx="6"/><text x="50%" y="17">sizeof</text></svg></g>
<g id="n-H211" class="c2"><svg x="513.8" y="1060.8" width="223.7" height="26"><rect width="100%" height="100%" rx="6"/><text x="50%" y="17">计算数据类型或变量所占的内存大小(字节数)</text></svg></g>
<g id="n-H22" class="c2"><svg x="452.8" y="1093" width="39.7" height="26"><rect width="100%" height="100%" rx="6"/><text x="50%" y="17">typeid</text></svg></g>
<g id="n-H221" class="c2"><svg x="514.5" y="1093" width="135.5" height="26"><rect width="100%" height="100%" rx="6"/><text x="50%" y="17">获取一个表达式的类型信息</text></svg></g>
<g id="n-H3" class="c2"><svg x="375.8" y="1190.5" width="55" height="26"><rect width="100%" height="100%" rx="6"/><text x="50%" y="17">类型转化</text></svg></g>
<g id="n-H31" class="c2"><svg x="452.8" y="1125.7" width="63.3" height="26"><rect width="100%" height="100%" rx="6"/><text x="50%" y="17">static_cast</text></svg></g>
<g id="n-H311" class="c2"><svg x="538.1" y="1125.7" width="112.5" height="26"><rect width="100%" height="100%" rx="6"/><text x="50%" y="17">明确类型之间的转化</text></svg></g>
<g id="n-H32" class="c2"><svg x="452.8" y="1174.4" width="79.3" height="26"><rect width="100%" height="100%" rx="6"/><text x="50%" y="17">dynamic_cast</text></svg></g>
<g id="n-H321" class="c2"><svg x="554.1" y="1158.3" width="135.5" height="26"><rect width="100%" height="100%" rx="6"/><text x="50%" y="17">多态类型的指针或引用转化</text></svg></g>
<g id="n-H322" class="c2"><svg x="554.1" y="1190.5" width="112.5" height="26"><rect width="100%" height="100%" rx="6"/><text x="50%" y="17">特别适用父类到子类</text></svg></g>
<g id="n-H33" class="c2"><svg x="452.8" y="1223.2" width="64" height="26"><rect width="100%" height="100%" rx="6"/><text x="50%" y="17">const_cast</text></svg></g>
<g id="n-H331" class="c2"><svg x="538.8" y="1223.2" width="117" height="26"><rect width="100%" height="100%" rx="6"/><text x="50%" y="17">移除或添加const属性</text></svg></g>
<g id="n-H34" class="c2"><svg x="452.8" y="1255.8" width="88.9" height="26"><rect width="100%" height="100%" rx="6"/><text x="50%" y="17">reinterpret_cast</text></svg></g>
<g id="n-H341" class="c2"><svg x="563.7" y="1255.8" width="135.5" height="26"><rect width="100%" height="100%" rx="6"/><text x="50%" y="17">其他类型与指针类型的转化</text></svg></g>
<g id="n-I" class="c2"><svg x="298.8" y="1408.6" width="55" height="26"><rect width="100%" height="100%" rx="6"/><text x="50%" y="17">面向对象</text></svg></g>
<g id="n-I1" class="c2"><svg x="375.8" y="1302.8" width="44.1" height="26"><rect width="100%" height="100%" rx="6"/><text x="50%" y="17">explicit</text></svg></g>
<g id="n-I11" class="c2"><svg x="441.9" y="1286.3" width="55" height="26"><rect width="100%" height="100%" rx="6"/><text x="50%" y="17">构造函数</text></svg></g>
<g id="n-I111" class="c2"><svg x="518.9" y="1286.3" width="135.5" height="26"><rect width="100%" height="100%" rx="6"/><text x="50%" y="17">防止隐式转换和复制初始化</text></svg></g>
<g id="n-I12" class="c2"><svg x="441.9" y="1318.9" width="55" height="26"><rect width="100%" height="100%" rx="6"/><text x="50%" y="17">转换函数</text></svg></g>
<g id="n-I121" class="c2"><svg x="518.9" y="1318.9" width="78" height="26"><rect width="100%" height="100%" rx="6"/><text x="50%" y="17">防止隐式转换</text></svg></g>
<g id="n-I2" class="c2"><svg x="375.8" y="1350.7" width="40.2" height="26"><rect width="100%" height="100%" rx="6"/><text x="50%" y="17">delete</text></svg></g>
<g id="n-I21" class="c2"><svg x="438" y="1350.7" width="112.5" height="26"><rect width="100%" height="100%" rx="6"/><text x="50%" y="17">禁用某个默认成员函数</text></svg></g>
<g id="n-I3" class="c2"><svg x="375.8" y="1384" width="43.5" height="26"><rect width="100%" height="100%" rx="6"/><text x="50%" y="17">default</text></svg></g>
<g id="n-I31" class="c2"><svg x="441.3" y="1384" width="204.5" height="26"><rect width="100%" height="100%" rx="6"/><text x="50%" y="17">指示编译器为某个成员函数生成默认实现</text></svg></g>
<g id="n-I4" class="c2"><svg x="375.8" y="1432.5" width="37.8" height="26"><rect width="100%" height="100%" rx="6"/><text x="50%" y="17">friend</text></svg></g>
<g id="n-I41" class="c2"><svg x="435.6" y="1416.4" width="55" height="26"><rect width="100%" height="100%" rx="6"/><text x="50%" y="17">友元函数</text></svg></g>
<g id="n-I411" class="c2"><svg x="512.6" y="1416.4" width="216" height="26"><rect width="100%" height="100%" rx="6"/><text x="50%" y="17">允许函数访问某个类的私有成员和保护成员</text></svg></g>
<g id="n-I42" class="c2"><svg x="435.6" y="1448.6" width="43.5" height="26"><rect width="100%" height="100%" rx="6"/><text x="50%" y="17">友元类</text></svg></g>
<g id="n-I421" class="c2"><svg x="501.1" y="1448.6" width="227.5" height="26"><rect width="100%" height="100%" rx="6"/><text x="50%" y="17">允许一个类访问某个类的私有成员和保护成员</text></svg></g>
<g id="n-I5" class="c2"><svg x="375.8" y="1481.3" width="50.5" height="26"><rect width="100%" height="100%" rx="6"/><text x="50%" y="17">override</text></svg></g>
<g id="n-I51" class="c2"><svg x="448.3" y="1481.3" width="170" height="26"><rect width="100%" height="100%" rx="6"/><text x="50%" y="17">表示当前函数重写了父类的虚函数</text></svg></g>
<g id="n-I6" class="c2"><svg x="375.8" y="1513.7" width="30.1" height="26"><rect width="100%" height="100%" rx="6"/><text x="50%" y="17">final</text></svg></g>
<g id="n-I61" class="c2"><svg x="427.9" y="1513.7" width="66.5" height="26"><rect width="100%" height="100%" rx="6"/><text x="50%" y="17">禁止类继承</text></svg></g>
<g id="n-I611" class="c2"><svg x="516.4" y="1513.7" width="78" height="26"><rect width="100%" height="100%" rx="6"/><text x="50%" y="17">禁止重载虚函数</text></svg></g>
<g id="n-J" class="c2"><svg x="298.8" y="1558.3" width="32" height="26"><rect width="100%" height="100%" rx="6"/><text x="50%" y="17">异常</text></svg></g>
<g id="n-J1" class="c2"><svg x="352.8" y="1543.1" width="21.8" height="26"><rect width="100%" height="100%" rx="6"/><text x="50%" y="17">try</text></svg></g>
<g id="n-J11" class="c2"><svg x="396.6" y="1543.1" width="36.5" height="26"><rect width="100%" height="100%" rx="6"/><text x="50%" y="17">catch</text></svg></g>
<g id="n-J111" class="c2"><svg x="455.1" y="1543.1" width="37.1" height="26"><rect width="100%" height="100%" rx="6"/><text x="50%" y="17">throw</text></svg></g>
<g id="n-J2" class="c2"><svg x="352.8" y="1574" width="55.7" height="26"><rect width="100%" height="100%" rx="6"/><text x="50%" y="17">noexcept</text></svg></g>
<g id="n-J21" class="c2"><svg x="430.5" y="1574" width="147" height="26"><rect width="100%" height="100%" rx="6"/><text x="50%" y="17">声明函数不可以抛出任何异常</text></svg></g>

<g id="n-K" class="c3"><svg x="284.8" y="1725.9" width="55" height="26"><rect width="100%" height="100%" rx="6"/><text x="50%" y="17">内存分区</text></svg></g>
<g id="n-K1" class="c3"><svg x="361.8" y="1628.4" width="43.5" height="26"><rect width="100%" height="100%" rx="6"/><text x="50%" y="17">高地址</text></svg></g>
<g id="n-K2" class="c3"><svg x="361.8" y="1660.6" width="32" height="26"><rect width="100%" height="100%" rx="6"/><text x="50%" y="17">栈区</text></svg></g>
<g id="n-K21" class="c3"><svg x="415.8" y="1660.6" width="112.5" height="26"><rect width="100%" height="100%" rx="6"/><text x="50%" y="17">编译器自动分配释放</text></svg></g>
<g id="n-K211" class="c3"><svg x="550.3" y="1660.6" width="193" height="26"><rect width="100%" height="100%" rx="6"/><text x="50%" y="17">局部变量，函数参数，函数调用信息</text></svg></g>
<g id="n-K3" class="c3"><svg x="361.8" y="1693.1" width="32" height="26"><rect width="100%" height="100%" rx="6"/><text x="50%" y="17">堆区</text></svg></g>
<g id="n-K31" class="c3"><svg x="415.8" y="1693.1" width="224.2" height="26"><rect width="100%" height="100%" rx="6"/><text x="50%" y="17">malloc/new申请内存，free/delete释放内存</text></svg></g>
<g id="n-K4" class="c3"><svg x="361.8" y="1725.9" width="74.2" height="26"><rect width="100%" height="100%" rx="6"/><text x="50%" y="17">全局(静态)区</text></svg></g>
<g id="n-K41" class="c3"><svg x="458" y="1725.9" width="112.5" height="26"><rect width="100%" height="100%" rx="6"/><text x="50%" y="17">全局变量，静态变量</text></svg></g>
<g id="n-K5" class="c3"><svg x="361.8" y="1758.1" width="43.5" height="26"><rect width="100%" height="100%" rx="6"/><text x="50%" y="17">常量区</text></svg></g>
<g id="n-K51" class="c3"><svg x="427.3" y="1758.1" width="124" height="26"><rect width="100%" height="100%" rx="6"/><text x="50%" y="17">常量数据，如常量字符串</text></svg></g>
<g id="n-K6" class="c3"><svg x="361.8" y="1790.8" width="43.5" height="26"><rect width="100%" height="100%" rx="6"/><text x="50%" y="17">代码区</text></svg></g>
<g id="n-K61" class="c3"><svg x="427.3" y="1790.8" width="55" height="26"><rect width="100%" height="100%" rx="6"/><text x="50%" y="17">程序代码</text></svg></g>
<g id="n-K7" class="c3"><svg x="361.8" y="1823.4" width="43.5" height="26"><rect width="100%" height="100%" rx="6"/><text x="50%" y="17">低地址</text></svg></g>
<g id="n-L" class="c3"><svg x="284.8" y="1886.5" width="55" height="26"><rect width="100%" height="100%" rx="6"/><text x="50%" y="17">内存泄漏</text></svg></g>
<g id="n-L1" class="c3"><svg x="361.8" y="1854.3" width="170" height="26"><rect width="100%" height="100%" rx="6"/><text x="50%" y="17">程序未能释放掉不再使用的内存</text></svg></g>
<g id="n-L2" class="c3"><svg x="361.8" y="1919.1" width="32" height="26"><rect width="100%" height="100%" rx="6"/><text x="50%" y="17">分类</text></svg></g>
<g id="n-L21" class="c3"><svg x="415.8" y="1886.5" width="43.5" height="26"><rect width="100%" height="100%" rx="6"/><text x="50%" y="17">堆内存</text></svg></g>
<g id="n-L211" class="c3"><svg x="481.3" y="1886.5" width="166.8" height="26"><rect width="100%" height="100%" rx="6"/><text x="50%" y="17">malloc，new申请的内存未释放</text></svg></g>
<g id="n-L2111" class="c3"><svg x="670.1" y="1886.5" width="31.4" height="26"><rect width="100%" height="100%" rx="6"/><text x="50%" y="17">RAII</text></svg></g>
<g id="n-L22" class="c3"><svg x="415.8" y="1919.1" width="55" height="26"><rect width="100%" height="100%" rx="6"/><text x="50%" y="17">系统资源</text></svg></g>
<g id="n-L221" class="c3"><svg x="492.8" y="1919.1" width="220.5" height="26"><rect width="100%" height="100%" rx="6"/><text x="50%" y="17">socket，FILE*，mysql*等系统资源未关闭</text></svg></g>
<g id="n-L2211" class="c3"><svg x="735.3" y="1919.1" width="31.4" height="26"><rect width="100%" height="100%" rx="6"/><text x="50%" y="17">RAII</text></svg></g>
<g id="n-L23" class="c3"><svg x="415.8" y="1951.8" width="55" height="26"><rect width="100%" height="100%" rx="6"/><text x="50%" y="17">子类资源</text></svg></g>
<g id="n-L231" class="c3"><svg x="492.8" y="1951.8" width="170" height="26"><rect width="100%" height="100%" rx="6"/><text x="50%" y="17">未将父类的析构函数定义为虚函数</text></svg></g>
<g id="n-L2311" class="c3"><svg x="684.8" y="1951.8" width="147" height="26"><rect width="100%" height="100%" rx="6"/><text x="50%" y="17">导致子类的析构函数未被调用</text></svg></g>
<g id="n-M" class="c3"><svg x="284.8" y="1998.8" width="55" height="26"><rect width="100%" height="100%" rx="6"/><text x="50%" y="17">内存对齐</text></svg></g>
<g id="n-M1" class="c3"><svg x="361.8" y="1982.7" width="55" height="26"><rect width="100%" height="100%" rx="6"/><text x="50%" y="17">性能提升</text></svg></g>
<g id="n-M11" class="c3"><svg x="438.8" y="1982.7" width="205.8" height="26"><rect width="100%" height="100%" rx="6"/><text x="50%" y="17">CPU一次内存周期内高效的读取和写入</text></svg></g>
<g id="n-M111" class="c3"><svg x="666.6" y="1982.7" width="101" height="26"><rect width="100%" height="100%" rx="6"/><text x="50%" y="17">减少内存访问次数</text></svg></g>
<g id="n-M2" class="c3"><svg x="361.8" y="2014.9" width="55" height="26"><rect width="100%" height="100%" rx="6"/><text x="50%" y="17">硬件限制</text></svg></g>
<g id="n-M21" class="c3"><svg x="438.8" y="2014.9" width="55" height="26"><rect width="100%" height="100%" rx="6"/><text x="50%" y="17">可移植性</text></svg></g>
<g id="n-N" class="c3"><svg x="284.8" y="2118.9" width="74.8" height="26"><rect width="100%" height="100%" rx="6"/><text x="50%" y="17">new和malloc</text></svg></g>
<g id="n-N1" class="c3"><svg x="381.6" y="2078.4" width="30.1" height="26"><rect width="100%" height="100%" rx="6"/><text x="50%" y="17">new</text></svg></g>
<g id="n-N11" class="c3"><svg x="433.7" y="2045.8" width="43.5" height="26"><rect width="100%" height="100%" rx="6"/><text x="50%" y="17">运算符</text></svg></g>
<g id="n-N111" class="c3"><svg x="499.2" y="2045.8" width="32" height="26"><rect width="100%" height="100%" rx="6"/><text x="50%" y="17">失败</text></svg></g>
<g id="n-N1111" class="c3"><svg x="553.2" y="2045.8" width="103.6" height="26"><rect width="100%" height="100%" rx="6"/><text x="50%" y="17">抛出bac_alloc异常</text></svg></g>
<g id="n-N12" class="c3"><svg x="433.7" y="2078.4" width="101" height="26"><rect width="100%" height="100%" rx="6"/><text x="50%" y="17">无需指定内存块大小</text></svg></g>
<g id="n-N13" class="c3"><svg x="433.7" y="2111.1" width="150.2" height="26"><rect width="100%" height="100%" rx="6"/><text x="50%" y="17">可以重载，调用构造/析构函数</text></svg></g>
<g id="n-N2" class="c3"><svg x="381.6" y="2159.6" width="42.2" height="26"><rect width="100%" height="100%" rx="6"/><text x="50%" y="17">malloc</text></svg></g>
<g id="n-N21" class="c3"><svg x="445.8" y="2143.3" width="32" height="26"><rect width="100%" height="100%" rx="6"/><text x="50%" y="17">函数</text></svg></g>
<g id="n-N211" class="c3"><svg x="499.8" y="2143.3" width="32" height="26"><rect width="100%" height="100%" rx="6"/><text x="50%" y="17">失败</text></svg></g>
<g id="n-N2111" class="c3"><svg x="553.8" y="2143.3" width="61.4" height="26"><rect width="100%" height="100%" rx="6"/><text x="50%" y="17">返回NULL</text></svg></g>
<g id="n-N22" class="c3"><svg x="445.8" y="2175.9" width="112.5" height="26"><rect width="100%" height="100%" rx="6"/><text x="50%" y="17">显式指出所需内存大小</text></svg></g>
<g id="n-N221" class="c3"><svg x="580.3" y="2175.9" width="78" height="26"><rect width="100%" height="100%" rx="6"/><text x="50%" y="17">堆上分配内存</text></svg></g>
<g id="n-O" class="c3"><svg x="284.8" y="2247.8" width="71.5" height="26"><rect width="100%" height="100%" rx="6"/><text x="50%" y="17">delete和free</text></svg></g>
<g id="n-O1" class="c3"><svg x="378.3" y="2223" width="40.2" height="26"><rect width="100%" height="100%" rx="6"/><text x="50%" y="17">delete</text></svg></g>
<g id="n-O11" class="c3"><svg x="440.5" y="2206.9" width="43.5" height="26"><rect width="100%" height="100%" rx="6"/><text x="50%" y="17">运算符</text></svg></g>
<g id="n-O111" class="c3"><svg x="506" y="2206.9" width="143.8" height="26"><rect width="100%" height="100%" rx="6"/><text x="50%" y="17">释放后指针值设置为nullptr</text></svg></g>
<g id="n-O1111" class="c3"><svg x="671.8" y="2206.9" width="55" height="26"><rect width="100%" height="100%" rx="6"/><text x="50%" y="17">调用析构</text></svg></g>
<g id="n-O12" class="c3"><svg x="440.5" y="2239.5" width="154.6" height="26"><rect width="100%" height="100%" rx="6"/><text x="50%" y="17">delete[]释放new[]分配的数组</text></svg></g>
<g id="n-O2" class="c3"><svg x="378.3" y="2271.7" width="28.8" height="26"><rect width="100%" height="100%" rx="6"/><text x="50%" y="17">free</text></svg></g>
<g id="n-O21" class="c3"><svg x="429.1" y="2271.7" width="32" height="26"><rect width="100%" height="100%" rx="6"/><text x="50%" y="17">函数</text></svg></g>
<g id="n-O211" class="c3"><svg x="483.1" y="2271.7" width="89.5" height="26"><rect width="100%" height="100%" rx="6"/><text x="50%" y="17">可能导致野指针</text></svg></g>
<g id="n-O2111" class="c3"><svg x="594.6" y="2271.7" width="78" height="26"><rect width="100%" height="100%" rx="6"/><text x="50%" y="17">不会调用析构</text></svg></g>

<g id="n-P" class="c4"><svg x="279.8" y="2342.6" width="43.5" height="26"><rect width="100%" height="100%" rx="6"/><text x="50%" y="17">迭代器</text></svg></g>
<g id="n-P1" class="c4"><svg x="345.3" y="2326.1" width="204.5" height="26"><rect width="100%" height="100%" rx="6"/><text x="50%" y="17">提供统一的接口，隐藏底层容器的实现</text></svg></g>
<g id="n-P11" class="c4"><svg x="571.8" y="2326.1" width="135.5" height="26"><rect width="100%" height="100%" rx="6"/><text x="50%" y="17">允许开发者使用一致的语法</text></svg></g>
<g id="n-P2" class="c4"><svg x="345.3" y="2358.8" width="32" height="26"><rect width="100%" height="100%" rx="6"/><text x="50%" y="17">失效</text></svg></g>

<g id="n-Q" class="c5"><svg x="313.8" y="2478.1" width="32" height="26"><rect width="100%" height="100%" rx="6"/><text x="50%" y="17">封装</text></svg></g>
<g id="n-Q1" class="c5"><svg x="367.8" y="2429.3" width="32" height="26"><rect width="100%" height="100%" rx="6"/><text x="50%" y="17">思想</text></svg></g>
<g id="n-Q11" class="c5"><svg x="421.8" y="2413.2" width="55" height="26"><rect width="100%" height="100%" rx="6"/><text x="50%" y="17">数据隐藏</text></svg></g>
<g id="n-Q111" class="c5"><svg x="498.8" y="2413.2" width="181.5" height="26"><rect width="100%" height="100%" rx="6"/><text x="50%" y="17">通过访问修饰符控制成员的可见性</text></svg></g>
<g id="n-Q12" class="c5"><svg x="421.8" y="2445.8" width="55" height="26"><rect width="100%" height="100%" rx="6"/><text x="50%" y="17">接口暴露</text></svg></g>
<g id="n-Q121" class="c5"><svg x="498.8" y="2445.8" width="265.2" height="26"><rect width="100%" height="100%" rx="6"/><text x="50%" y="17">提供公共方法(public)让外部安全地访问或修改数据</text></svg></g>
<g id="n-Q2" class="c5"><svg x="367.8" y="2478.1" width="39" height="26"><rect width="100%" height="100%" rx="6"/><text x="50%" y="17">public</text></svg></g>
<g id="n-Q21" class="c5"><svg x="428.8" y="2478.1" width="112.5" height="26"><rect width="100%" height="100%" rx="6"/><text x="50%" y="17">可以被任意实体访问</text></svg></g>
<g id="n-Q3" class="c5"><svg x="367.8" y="2510.7" width="56.9" height="26"><rect width="100%" height="100%" rx="6"/><text x="50%" y="17">protected</text></svg></g>
<g id="n-Q31" class="c5"><svg x="446.7" y="2510.7" width="147" height="26"><rect width="100%" height="100%" rx="6"/><text x="50%" y="17">只允许被子类及成员函数访问</text></svg></g>
<g id="n-Q4" class="c5"><svg x="367.8" y="2543.3" width="43.5" height="26"><rect width="100%" height="100%" rx="6"/><text x="50%" y="17">private</text></svg></g>
<g id="n-Q41" class="c5"><svg x="433.3" y="2543.3" width="216" height="26"><rect width="100%" height="100%" rx="6"/><text x="50%" y="17">只允许被成员函数、友元类或友元函数访问</text></svg></g>
<g id="n-R" class="c5"><svg x="313.8" y="2590.3" width="32" height="26"><rect width="100%" height="100%" rx="6"/><text x="50%" y="17">继承</text></svg></g>
<g id="n-R1" class="c5"><svg x="367.8" y="2590.3" width="32" height="26"><rect width="100%" height="100%" rx="6"/><text x="50%" y="17">思想</text></svg></g>
<g id="n-R11" class="c5"><svg x="421.8" y="2574.2" width="55" height="26"><rect width="100%" height="100%" rx="6"/><text x="50%" y="17">代码复用</text></svg></g>
<g id="n-R111" class="c5"><svg x="498.8" y="2574.2" width="112.5" height="26"><rect width="100%" height="100%" rx="6"/><text x="50%" y="17">子类继承父类的成员</text></svg></g>
<g id="n-R12" class="c5"><svg x="421.8" y="2606.4" width="55" height="26"><rect width="100%" height="100%" rx="6"/><text x="50%" y="17">扩展功能</text></svg></g>
<g id="n-R121" class="c5"><svg x="498.8" y="2606.4" width="170" height="26"><rect width="100%" height="100%" rx="6"/><text x="50%" y="17">子类可以新增或重写父类的方法</text></svg></g>
<g id="n-S" class="c5"><svg x="313.8" y="2816" width="32" height="26"><rect width="100%" height="100%" rx="6"/><text x="50%" y="17">多态</text></svg></g>
<g id="n-S1" class="c5"><svg x="367.8" y="2653.4" width="32" height="26"><rect width="100%" height="100%" rx="6"/><text x="50%" y="17">思想</text></svg></g>
<g id="n-S11" class="c5"><svg x="421.8" y="2637.3" width="55" height="26"><rect width="100%" height="100%" rx="6"/><text x="50%" y="17">动态绑定</text></svg></g>
<g id="n-S111" class="c5"><svg x="498.8" y="2637.3" width="193" height="26"><rect width="100%" height="100%" rx="6"/><text x="50%" y="17">运行时根据对象类型决定调用哪个方法</text></svg></g>
<g id="n-S1111" class="c5"><svg x="713.8" y="2637.3" width="66.5" height="26"><rect width="100%" height="100%" rx="6"/><text x="50%" y="17">虚函数实现</text></svg></g>
<g id="n-S12" class="c5"><svg x="421.8" y="2670" width="55" height="26"><rect width="100%" height="100%" rx="6"/><text x="50%" y="17">接口统一</text></svg></g>
<g id="n-S121" class="c5"><svg x="498.8" y="2670" width="204.5" height="26"><rect width="100%" height="100%" rx="6"/><text x="50%" y="17">父类定义通用接口，子类提供具体实现</text></svg></g>
<g id="n-S2" class="c5"><svg x="367.8" y="2759.3" width="43.5" height="26"><rect width="100%" height="100%" rx="6"/><text x="50%" y="17">虚函数</text></svg></g>
<g id="n-S21" class="c5"><svg x="433.3" y="2702.2" width="32" height="26"><rect width="100%" height="100%" rx="6"/><text x="50%" y="17">概念</text></svg></g>
<g id="n-S211" class="c5"><svg x="487.3" y="2702.2" width="177.7" height="26"><rect width="100%" height="100%" rx="6"/><text x="50%" y="17">在父类中用virtual声明的成员函数</text></svg></g>
<g id="n-S2111" class="c5"><svg x="687" y="2702.2" width="127.2" height="26"><rect width="100%" height="100%" rx="6"/><text x="50%" y="17">允许子类重写(override)</text></svg></g>
<g id="n-S22" class="c5"><svg x="433.3" y="2816.6" width="32" height="26"><rect width="100%" height="100%" rx="6"/><text x="50%" y="17">原理</text></svg></g>
<g id="n-S221" class="c5"><svg x="487.3" y="2751.4" width="93.3" height="26"><rect width="100%" height="100%" rx="6"/><text x="50%" y="17">虚函数表(vtable)</text></svg></g>
<g id="n-S2211" class="c5"><svg x="602.6" y="2734.4" width="227.5" height="26"><rect width="100%" height="100%" rx="6"/><text x="50%" y="17">一个存储该类所有虚函数的地址函数指针数组</text></svg></g>
<g id="n-S2212" class="c5"><svg x="602.6" y="2767.5" width="273.5" height="26"><rect width="100%" height="100%" rx="6"/><text x="50%" y="17">派生类会继承基类的虚函数表，并替换重写后的函数地址</text></svg></g>
<g id="n-S222" class="c5"><svg x="487.3" y="2816.6" width="93.3" height="26"><rect width="100%" height="100%" rx="6"/><text x="50%" y="17">虚函数指针(vptr)</text></svg></g>
<g id="n-S2221" class="c5"><svg x="602.6" y="2800.1" width="216" height="26"><rect width="100%" height="100%" rx="6"/><text x="50%" y="17">每个对象内部隐藏一个指向虚函数表的指针</text></svg></g>
<g id="n-S2222" class="c5"><svg x="602.6" y="2832.3" width="269.7" height="26"><rect width="100%" height="100%" rx="6"/><text x="50%" y="17">对象构造时，vptr被初始化为当前类的虚函数表地址</text></svg></g>
<g id="n-S223" class="c5"><svg x="487.3" y="2897.6" width="89.5" height="26"><rect width="100%" height="100%" rx="6"/><text x="50%" y="17">动态绑定的过程</text></svg></g>
<g id="n-S2231" class="c5"><svg x="598.8" y="2865" width="189.2" height="26"><rect width="100%" height="100%" rx="6"/><text x="50%" y="17">编译器通过对象的vptr找到虚函数表</text></svg></g>
<g id="n-S2232" class="c5"><svg x="598.8" y="2897.6" width="135.5" height="26"><rect width="100%" height="100%" rx="6"/><text x="50%" y="17">从虚函数表中查找函数地址</text></svg></g>
<g id="n-S2233" class="c5"><svg x="598.8" y="2929.8" width="135.5" height="26"><rect width="100%" height="100%" rx="6"/><text x="50%" y="17">从虚函数表中查找函数地址</text></svg></g>
<g id="n-S3" class="c5"><svg x="367.8" y="2978.6" width="55" height="26"><rect width="100%" height="100%" rx="6"/><text x="50%" y="17">纯虚函数</text></svg></g>
<g id="n-S31" class="c5"><svg x="444.8" y="2962.4" width="32" height="26"><rect width="100%" height="100%" rx="6"/><text x="50%" y="17">概念</text></svg></g>
<g id="n-S311" class="c5"><svg x="498.8" y="2962.4" width="101" height="26"><rect width="100%" height="100%" rx="6"/><text x="50%" y="17">用于解决菱形继承</text></svg></g>
<g id="n-S3111" class="c5"><svg x="621.8" y="2962.4" width="250.5" height="26"><rect width="100%" height="100%" rx="6"/><text x="50%" y="17">确保在多重继承时，公共父类在子类只有一份实例</text></svg></g>
<g id="n-S32" class="c5"><svg x="444.8" y="2995.1" width="32" height="26"><rect width="100%" height="100%" rx="6"/><text x="50%" y="17">原理</text></svg></g>
<g id="n-S321" class="c5"><svg x="498.8" y="2995.1" width="285" height="26"><rect width="100%" height="100%" rx="6"/><text x="50%" y="17">虚继承的类会额外存储一个虚基类表指针，指向虚基类表</text></svg></g>
<g id="n-T" class="c5"><svg x="313.8" y="3066.5" width="32" height="26"><rect width="100%" height="100%" rx="6"/><text x="50%" y="17">拷贝</text></svg></g>
<g id="n-T1" class="c5"><svg x="367.8" y="3042.1" width="43.5" height="26"><rect width="100%" height="100%" rx="6"/><text x="50%" y="17">浅拷贝</text></svg></g>
<g id="n-T11" class="c5"><svg x="433.3" y="3026" width="32" height="26"><rect width="100%" height="100%" rx="6"/><text x="50%" y="17">概念</text></svg></g>
<g id="n-T111" class="c5"><svg x="487.3" y="3026" width="135.5" height="26"><rect width="100%" height="100%" rx="6"/><text x="50%" y="17">仅复制对象的成员变量的值</text></svg></g>
<g id="n-T1111" class="c5"><svg x="644.8" y="3026" width="135.5" height="26"><rect width="100%" height="100%" rx="6"/><text x="50%" y="17">不复制指针指向的实际数据</text></svg></g>
<g id="n-T12" class="c5"><svg x="433.3" y="3058.3" width="32" height="26"><rect width="100%" height="100%" rx="6"/><text x="50%" y="17">问题</text></svg></g>
<g id="n-T121" class="c5"><svg x="487.3" y="3058.3" width="112.5" height="26"><rect width="100%" height="100%" rx="6"/><text x="50%" y="17">双重释放或内存泄漏</text></svg></g>
<g id="n-T2" class="c5"><svg x="367.8" y="3090.9" width="43.5" height="26"><rect width="100%" height="100%" rx="6"/><text x="50%" y="17">深拷贝</text></svg></g>
<g id="n-T21" class="c5"><svg x="433.3" y="3090.9" width="32" height="26"><rect width="100%" height="100%" rx="6"/><text x="50%" y="17">概念</text></svg></g>
<g id="n-T211" class="c5"><svg x="487.3" y="3090.9" width="124" height="26"><rect width="100%" height="100%" rx="6"/><text x="50%" y="17">复制对象的成员变量的值</text></svg></g>
<g id="n-T2111" class="c5"><svg x="633.3" y="3090.9" width="135.5" height="26"><rect width="100%" height="100%" rx="6"/><text x="50%" y="17">也复制指针指向的实际数据</text></svg></g>
<g id="n-U" class="c5"><svg x="313.8" y="3121.8" width="55" height="26"><rect width="100%" height="100%" rx="6"/><text x="50%" y="17">函数重写</text></svg></g>
<g id="n-U1" class="c5"><svg x="390.8" y="3121.8" width="239" height="26"><rect width="100%" height="100%" rx="6"/><text x="50%" y="17">子类重新定义父类的虚函数，来实现多态行为</text></svg></g>
<g id="n-V" class="c5"><svg x="313.8" y="3152.5" width="66.5" height="26"><rect width="100%" height="100%" rx="6"/><text x="50%" y="17">运算符重载</text></svg></g>
<g id="n-V1" class="c5"><svg x="402.3" y="3152.5" width="180.2" height="26"><rect width="100%" height="100%" rx="6"/><text x="50%" y="17">对C++内置的运算符进行重新定义</text></svg></g>
<g id="n-V11" class="c5"><svg x="604.5" y="3152.5" width="170" height="26"><rect width="100%" height="100%" rx="6"/><text x="50%" y="17">使得运算符能够适用于自定义类型</text></svg></g>

<g id="n-W" class="c6"><svg x="296.8" y="3207.1" width="66.5" height="26"><rect width="100%" height="100%" rx="6"/><text x="50%" y="17">列表初始化</text></svg></g>
<g id="n-W1" class="c6"><svg x="385.3" y="3207.1" width="78" height="26"><rect width="100%" height="100%" rx="6"/><text x="50%" y="17">基础数据类型</text></svg></g>
<g id="n-W11" class="c6"><svg x="485.3" y="3207.1" width="32" height="26"><rect width="100%" height="100%" rx="6"/><text x="50%" y="17">数组</text></svg></g>
<g id="n-W111" class="c6"><svg x="539.3" y="3207.1" width="43.5" height="26"><rect width="100%" height="100%" rx="6"/><text x="50%" y="17">类对象</text></svg></g>
<g id="n-W1111" class="c6"><svg x="604.8" y="3207.1" width="32" height="26"><rect width="100%" height="100%" rx="6"/><text x="50%" y="17">容器</text></svg></g>
<g id="n-X" class="c6"><svg x="296.8" y="3270.4" width="55" height="26"><rect width="100%" height="100%" rx="6"/><text x="50%" y="17">智能指针</text></svg></g>
<g id="n-X1" class="c6"><svg x="373.8" y="3238" width="63.3" height="26"><rect width="100%" height="100%" rx="6"/><text x="50%" y="17">unique_ptr</text></svg></g>
<g id="n-X11" class="c6"><svg x="459.1" y="3238" width="112.5" height="26"><rect width="100%" height="100%" rx="6"/><text x="50%" y="17">独占所有权的智能指针</text></svg></g>
<g id="n-X2" class="c6"><svg x="373.8" y="3270.4" width="64" height="26"><rect width="100%" height="100%" rx="6"/><text x="50%" y="17">shared_ptr</text></svg></g>
<g id="n-X21" class="c6"><svg x="459.8" y="3270.4" width="193" height="26"><rect width="100%" height="100%" rx="6"/><text x="50%" y="17">允许多个智能指针共享同一块内存资源</text></svg></g>
<g id="n-X3" class="c6"><svg x="373.8" y="3303" width="55.7" height="26"><rect width="100%" height="100%" rx="6"/><text x="50%" y="17">weak_ptr</text></svg></g>
<g id="n-X31" class="c6"><svg x="451.5" y="3303" width="179" height="26"><rect width="100%" height="100%" rx="6"/><text x="50%" y="17">解决shared_ptr之间循环引用问题</text></svg></g>
<g id="n-Y" class="c6"><svg x="296.8" y="3350.3" width="46.7" height="26"><rect width="100%" height="100%" rx="6"/><text x="50%" y="17">lambda</text></svg></g>
<g id="n-Y1" class="c6"><svg x="365.5" y="3334.2" width="32" height="26"><rect width="100%" height="100%" rx="6"/><text x="50%" y="17">概念</text></svg></g>
<g id="n-Y11" class="c6"><svg x="419.5" y="3334.2" width="204.5" height="26"><rect width="100%" height="100%" rx="6"/><text x="50%" y="17">定义匿名函数，使得程序更加简洁和易读</text></svg></g>
<g id="n-Y2" class="c6"><svg x="365.5" y="3366.4" width="32" height="26"><rect width="100%" height="100%" rx="6"/><text x="50%" y="17">场景</text></svg></g>
<g id="n-Y21" class="c6"><svg x="419.5" y="3366.4" width="55" height="26"><rect width="100%" height="100%" rx="6"/><text x="50%" y="17">线程函数</text></svg></g>
<g id="n-Y211" class="c6"><svg x="496.5" y="3366.4" width="135.5" height="26"><rect width="100%" height="100%" rx="6"/><text x="50%" y="17">自定义操作，配合算法库</text></svg></g>
<g id="n-Z" class="c6"><svg x="296.8" y="3470.2" width="58.2" height="26"><rect width="100%" height="100%" rx="6"/><text x="50%" y="17">functional</text></svg></g>
<g id="n-Z1" class="c6"><svg x="377" y="3429.5" width="50.4" height="26"><rect width="100%" height="100%" rx="6"/><text x="50%" y="17">function</text></svg></g>
<g id="n-Z11" class="c6"><svg x="449.4" y="3398.2" width="32" height="26"><rect width="100%" height="100%" rx="6"/><text x="50%" y="17">概念</text></svg></g>
<g id="n-Z111" class="c6"><svg x="503.4" y="3398.2" width="101" height="26"><rect width="100%" height="100%" rx="6"/><text x="50%" y="17">通用的函数包装器</text></svg></g>
<g id="n-Z1111" class="c6"><svg x="626.4" y="3398.2" width="193" height="26"><rect width="100%" height="100%" rx="6"/><text x="50%" y="17">可以存储、复制和调用任何可调用对象</text></svg></g>
<g id="n-Z12" class="c6"><svg x="449.4" y="3429.5" width="55" height="26"><rect width="100%" height="100%" rx="6"/><text x="50%" y="17">作用对象</text></svg></g>
<g id="n-Z121" class="c6"><svg x="526.4" y="3429.5" width="235.2" height="26"><rect width="100%" height="100%" rx="6"/><text x="50%" y="17">普通函数、Lambda、std::bind 结果、仿函数</text></svg></g>
<g id="n-Z13" class="c6"><svg x="449.4" y="3462.2" width="32" height="26"><rect width="100%" height="100%" rx="6"/><text x="50%" y="17">场景</text></svg></g>
<g id="n-Z131" class="c6"><svg x="503.4" y="3462.2" width="55" height="26"><rect width="100%" height="100%" rx="6"/><text x="50%" y="17">回调函数</text></svg></g>
<g id="n-Z1311" class="c6"><svg x="580.4" y="3462.2" width="55" height="26"><rect width="100%" height="100%" rx="6"/><text x="50%" y="17">事件处理</text></svg></g>
<g id="n-Z13111" class="c6"><svg x="657.4" y="3462.2" width="89.5" height="26"><rect width="100%" height="100%" rx="6"/><text x="50%" y="17">函数参数或返回值</text></svg></g>
<g id="n-Z2" class="c6"><svg x="377" y="3510.9" width="30.7" height="26"><rect width="100%" height="100%" rx="6"/><text x="50%" y="17">bind</text></svg></g>
<g id="n-Z21" class="c6"><svg x="429.7" y="3494.4" width="32" height="26"><rect width="100%" height="100%" rx="6"/><text x="50%" y="17">概念</text></svg></g>
<g id="n-Z211" class="c6"><svg x="483.7" y="3494.4" width="227.5" height="26"><rect width="100%" height="100%" rx="6"/><text x="50%" y="17">绑定函数参数，生成一个新的可调用函数对象</text></svg></g>
<g id="n-Z22" class="c6"><svg x="429.7" y="3526.8" width="32" height="26"><rect width="100%" height="100%" rx="6"/><text x="50%" y="17">场景</text></svg></g>
<g id="n-Z221" class="c6"><svg x="483.7" y="3526.8" width="55" height="26"><rect width="100%" height="100%" rx="6"/><text x="50%" y="17">回调函数</text></svg></g>
<g id="n-Z2211" class="c6"><svg x="560.7" y="3526.8" width="55" height="26"><rect width="100%" height="100%" rx="6"/><text x="50%" y="17">适配接口</text></svg></g>
<g id="n-Z22111" class="c6"><svg x="637.7" y="3526.8" width="78" height="26"><rect width="100%" height="100%" rx="6"/><text x="50%" y="17">绑定成员函数</text></svg></g>
<g id="n-AA" class="c6"><svg x="296.8" y="3574" width="41.6" height="26"><rect width="100%" height="100%" rx="6"/><text x="50%" y="17">thread</text></svg></g>
<g id="n-AA1" class="c6"><svg x="360.4" y="3557.9" width="34.6" height="26"><rect width="100%" height="100%" rx="6"/><text x="50%" y="17">join()</text></svg></g>
<g id="n-AA11" class="c6"><svg x="417" y="3557.9" width="170" height="26"><rect width="100%" height="100%" rx="6"/><text x="50%" y="17">阻塞当前线程，直到子线程完成</text></svg></g>
<g id="n-AA2" class="c6"><svg x="360.4" y="3590.6" width="51.2" height="26"><rect width="100%" height="100%" rx="6"/><text x="50%" y="17">detach()</text></svg></g>
<g id="n-AA21" class="c6"><svg x="433.6" y="3590.6" width="158.5" height="26"><rect width="100%" height="100%" rx="6"/><text x="50%" y="17">子线程后台独立执行，不会阻塞</text></svg></g>
<g id="n-AB" class="c6"><svg x="296.8" y="3637.6" width="55" height="26"><rect width="100%" height="100%" rx="6"/><text x="50%" y="17">RAII lock</text></svg></g>
<g id="n-AB1" class="c6"><svg x="373.8" y="3621.5" width="65.2" height="26"><rect width="100%" height="100%" rx="6"/><text x="50%" y="17">lock_guard</text></svg></g>
<g id="n-AB11" class="c6"><svg x="461" y="3621.5" width="101" height="26"><rect width="100%" height="100%" rx="6"/><text x="50%" y="17">简单的互斥量包装器</text></svg></g>
<g id="n-AB111" class="c6"><svg x="584" y="3621.5" width="124" height="26"><rect width="100%" height="100%" rx="6"/><text x="50%" y="17">用域结束时自动释放锁</text></svg></g>
<g id="n-AB2" class="c6"><svg x="373.8" y="3653.7" width="70.4" height="26"><rect width="100%" height="100%" rx="6"/><text x="50%" y="17">unique_lock</text></svg></g>
<g id="n-AB21" class="c6"><svg x="466.2" y="3653.7" width="81.2" height="26"><rect width="100%" height="100%" rx="6"/><text x="50%" y="17">手动加锁/解锁</text></svg></g>
<g id="n-AB211" class="c6"><svg x="569.4" y="3653.7" width="55" height="26"><rect width="100%" height="100%" rx="6"/><text x="50%" y="17">延迟加锁</text></svg></g>
<g id="n-AB2111" class="c6"><svg x="646.4" y="3653.7" width="78" height="26"><rect width="100%" height="100%" rx="6"/><text x="50%" y="17">配合条件变量</text></svg></g>
<g id="n-AC" class="c6"><svg x="296.8" y="3682.9" width="101.7" height="26"><rect width="100%" height="100%" rx="6"/><text x="50%" y="17">condition_variable</text></svg></g>
<g id="n-AD" class="c6"><svg x="296.8" y="3728.5" width="37.1" height="26"><rect width="100%" height="100%" rx="6"/><text x="50%" y="17">move</text></svg></g>
<g id="n-AD1" class="c6"><svg x="355.9" y="3712.5" width="32" height="26"><rect width="100%" height="100%" rx="6"/><text x="50%" y="17">概念</text></svg></g>
<g id="n-AD11" class="c6"><svg x="409.9" y="3712.5" width="216" height="26"><rect width="100%" height="100%" rx="6"/><text x="50%" y="17">将资源所有权从一个对象转移到另一个对象</text></svg></g>
<g id="n-AD111" class="c6"><svg x="647.9" y="3712.5" width="112.5" height="26"><rect width="100%" height="100%" rx="6"/><text x="50%" y="17">实现内存拷贝的最小化</text></svg></g>
<g id="n-AD2" class="c6"><svg x="355.9" y="3744.7" width="32" height="26"><rect width="100%" height="100%" rx="6"/><text x="50%" y="17">实现</text></svg></g>
<g id="n-AD21" class="c6"><svg x="409.9" y="3744.7" width="216" height="26"><rect width="100%" height="100%" rx="6"/><text x="50%" y="17">无论输入是左值还是右值，均转换为右值引用</text></svg></g>

<g id="n-AE" class="c1"><svg x="284.8" y="3831.9" width="31.4" height="26"><rect width="100%" height="100%" rx="6"/><text x="50%" y="17">RAII</text></svg></g>
<g id="n-AE1" class="c1"><svg x="338.2" y="3799.4" width="170" height="26"><rect width="100%" height="100%" rx="6"/><text x="50%" y="17">资源的获取与对象的生命周期绑定</text></svg></g>
<g id="n-AE2" class="c1"><svg x="338.2" y="3831.9" width="158.5" height="26"><rect width="100%" height="100%" rx="6"/><text x="50%" y="17">构造函数获取资源，析构函数释放资源</text></svg></g>
<g id="n-AE3" class="c1"><svg x="338.2" y="3864.5" width="32" height="26"><rect width="100%" height="100%" rx="6"/><text x="50%" y="17">场景</text></svg></g>
<g id="n-AE31" class="c1"><svg x="392.2" y="3864.5" width="55" height="26"><rect width="100%" height="100%" rx="6"/><text x="50%" y="17">智能指针</text></svg></g>
<g id="n-AE311" class="c1"><svg x="469.2" y="3864.5" width="43.5" height="26"><rect width="100%" height="100%" rx="6"/><text x="50%" y="17">互斥锁</text></svg></g>
<g id="n-AE3111" class="c1"><svg x="534.7" y="3864.5" width="43.5" height="26"><rect width="100%" height="100%" rx="6"/><text x="50%" y="17">文件流</text></svg></g>
<g id="n-AF" class="c1"><svg x="284.8" y="3911.8" width="81.2" height="26"><rect width="100%" height="100%" rx="6"/><text x="50%" y="17">NULL和nullptr</text></svg></g>
<g id="n-AF1" class="c1"><svg x="388" y="3895.3" width="221.1" height="26"><rect width="100%" height="100%" rx="6"/><text x="50%" y="17">std::nullptr_t类型，可以避免类型不一致问题</text></svg></g>
<g id="n-AF2" class="c1"><svg x="388" y="3927.9" width="55" height="26"><rect width="100%" height="100%" rx="6"/><text x="50%" y="17">类型安全</text></svg></g>
<g id="n-AF21" class="c1"><svg x="465" y="3927.9" width="66.5" height="26"><rect width="100%" height="100%" rx="6"/><text x="50%" y="17">代码可读性</text></svg></g>
<g id="n-AF211" class="c1"><svg x="553.5" y="3927.9" width="112.5" height="26"><rect width="100%" height="100%" rx="6"/><text x="50%" y="17">避免选择错误函数重载</text></svg></g>
<g id="n-AG" class="c1"><svg x="284.8" y="3991.5" width="66.5" height="26"><rect width="100%" height="100%" rx="6"/><text x="50%" y="17">大端和小端</text></svg></g>
<g id="n-AG1" class="c1"><svg x="373.3" y="3959" width="140.7" height="26"><rect width="100%" height="100%" rx="6"/><text x="50%" y="17">16进制数，0x12 34 56 78</text></svg></g>
<g id="n-AG11" class="c1"><svg x="536" y="3959" width="112.5" height="26"><rect width="100%" height="100%" rx="6"/><text x="50%" y="17">网络字节序规定是大端</text></svg></g>
<g id="n-AG2" class="c1"><svg x="373.3" y="3991.5" width="32" height="26"><rect width="100%" height="100%" rx="6"/><text x="50%" y="17">大端</text></svg></g>
<g id="n-AG21" class="c1"><svg x="427.3" y="3991.5" width="181.5" height="26"><rect width="100%" height="100%" rx="6"/><text x="50%" y="17">高字节在低地址，低字节在高地址</text></svg></g>
<g id="n-AG211" class="c1"><svg x="630.8" y="3991.5" width="69.7" height="26"><rect width="100%" height="100%" rx="6"/><text x="50%" y="17">12 34 56 78</text></svg></g>
<g id="n-AG3" class="c1"><svg x="373.3" y="4024.1" width="32" height="26"><rect width="100%" height="100%" rx="6"/><text x="50%" y="17">小端</text></svg></g>
<g id="n-AG31" class="c1"><svg x="427.3" y="4024.1" width="181.5" height="26"><rect width="100%" height="100%" rx="6"/><text x="50%" y="17">低字节在低地址，高字节在高地址</text></svg></g>
<g id="n-AG311" class="c1"><svg x="630.8" y="4024.1" width="69.7" height="26"><rect width="100%" height="100%" rx="6"/><text x="50%" y="17">78 56 34 12</text></svg></g>

<text x="356" y="4064" style="font-size:23px;text-anchor:start;fill:#D2D2D2">Presented with <tspan style="font-weight:bold;fill:#BDBDBD">xmind</tspan></text>
</svg>
